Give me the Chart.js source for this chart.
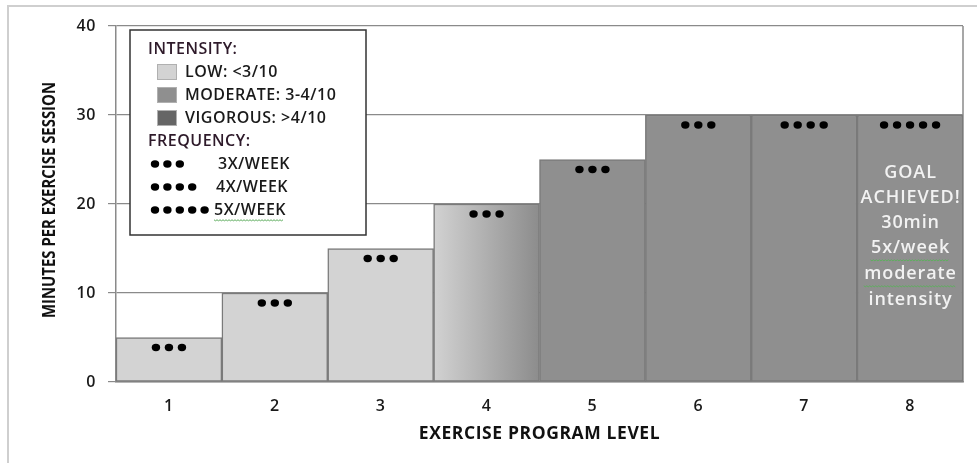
<!DOCTYPE html>
<html>
<head>
<meta charset="utf-8">
<script src="https://cdn.jsdelivr.net/npm/chart.js@4/dist/chart.umd.min.js"></script>
<style>
  html, body { margin: 0; padding: 0; background: #ffffff; }
  #wrap { width: 977px; height: 463px; position: relative; }
</style>
</head>
<body>
<div id="wrap"><canvas id="chart"></canvas></div>
<script>
// Exercise progression: minutes per session by program level
const levels = ['1', '2', '3', '4', '5', '6', '7', '8'];
const minutesPerSession = [5, 10, 15, 20, 25, 30, 30, 30];
const sessionsPerWeek = [3, 3, 3, 3, 3, 3, 4, 5];
const intensityLevel = ['low', 'low', 'low', 'low-to-moderate', 'moderate', 'moderate', 'moderate', 'moderate'];
const yTickValues = [0, 10, 20, 30, 40];

const intensityLabels = ['LOW: <3/10', 'MODERATE: 3-4/10', 'VIGOROUS: >4/10'];
const intensityColors = ['#d3d3d3', '#8f8f8f', '#666666'];
const frequencyCounts = [3, 4, 5];
const frequencyLabels = ['3X/WEEK', '4X/WEEK', '5X/WEEK'];
const goalLines = ['GOAL', 'ACHIEVED!', '30min', '5x/week', 'moderate', 'intensity'];
const yAxisTitle = 'MINUTES PER EXERCISE SESSION';
const xAxisTitle = 'EXERCISE PROGRAM LEVEL';

const FONT = '"Open Sans", "Noto Sans", sans-serif';
const AXIS_GREY = '#8a8a8a';
const DOT_GAP = 13;

function barFill(ctx) {
  const kind = intensityLevel[ctx.dataIndex];
  if (kind === 'low') return intensityColors[0];
  if (kind === 'moderate') return intensityColors[1];
  if (kind === 'vigorous') return intensityColors[2];
  // transition bar: fades from low to moderate across its width
  const chart = ctx.chart;
  const xs = chart.scales.x;
  if (!xs || !chart.chartArea) return intensityColors[0];
  const cx = xs.getPixelForValue(ctx.dataIndex);
  const half = (xs.width / levels.length) / 2;
  const g = chart.ctx.createLinearGradient(cx - half, 0, cx + half, 0);
  g.addColorStop(0, '#d2d2d2');
  g.addColorStop(1, '#8c8c8c');
  return g;
}

function drawDots(ctx, startX, cy, n, gap) {
  ctx.fillStyle = '#000';
  for (let i = 0; i < n; i++) {
    ctx.beginPath();
    ctx.ellipse(startX + i * gap, cy, 4.2, 3.7, 0, 0, Math.PI * 2);
    ctx.fill();
  }
}

function squiggle(ctx, x0, x1, y) {
  ctx.save();
  ctx.strokeStyle = '#5fae5f';
  ctx.lineWidth = 1;
  ctx.beginPath();
  for (let x = x0, k = 0; x <= x1; x += 1.5, k++) {
    const yy = y + (k % 2 ? 0.8 : -0.2);
    if (k === 0) ctx.moveTo(x, yy); else ctx.lineTo(x, yy);
  }
  ctx.stroke();
  ctx.restore();
}

const decorations = {
  id: 'decorations',
  beforeDraw(chart) {
    const ctx = chart.ctx;
    ctx.save();
    ctx.fillStyle = '#ffffff';
    ctx.fillRect(0, 0, chart.width, chart.height);
    // outer frame
    ctx.strokeStyle = '#cfcfcf';
    ctx.lineWidth = 2;
    ctx.beginPath();
    ctx.moveTo(8, chart.height);
    ctx.lineTo(8, 6);
    ctx.lineTo(chart.width, 6);
    ctx.stroke();
    ctx.restore();
    // slightly open lettering for the axis text
    ctx.letterSpacing = '0.6px';
  },
  beforeDatasetsDraw(chart) {
    const {ctx, chartArea} = chart;
    ctx.save();
    ctx.strokeStyle = AXIS_GREY;
    ctx.lineWidth = 1.5;
    ctx.beginPath();
    ctx.moveTo(chartArea.right, chartArea.top);
    ctx.lineTo(chartArea.right, chartArea.bottom);
    ctx.stroke();
    ctx.restore();
  },
  afterDatasetsDraw(chart) {
    const ctx = chart.ctx;
    const meta = chart.getDatasetMeta(0);
    ctx.save();
    // frequency dots on each bar
    meta.data.forEach((bar, i) => {
      const n = sessionsPerWeek[i];
      drawDots(ctx, bar.x - (n - 1) * DOT_GAP / 2, bar.y + 10, n, DOT_GAP);
    });

    // goal note inside the last bar
    const last = meta.data[meta.data.length - 1];
    ctx.fillStyle = '#f2f2f2';
    ctx.font = '600 18px ' + FONT;
    ctx.letterSpacing = '0.9px';
    ctx.textAlign = 'center';
    ctx.textBaseline = 'middle';
    const lineYs = [173, 198, 223, 248, 274, 300];
    goalLines.forEach((t, i) => {
      ctx.fillText(t, last.x + 0.5, lineYs[i]);
      if (t === '5x/week' || t === 'moderate') {
        const w = ctx.measureText(t).width;
        squiggle(ctx, last.x - w / 2, last.x + w / 2, lineYs[i] + 12);
      }
    });

    // key box
    const bx = 130, by = 30, bw = 236, bh = 205;
    ctx.fillStyle = '#ffffff';
    ctx.fillRect(bx, by, bw, bh);
    ctx.strokeStyle = '#333333';
    ctx.lineWidth = 1.5;
    ctx.strokeRect(bx, by, bw, bh);

    ctx.textAlign = 'left';
    ctx.textBaseline = 'middle';
    ctx.font = '600 16px ' + FONT;
    ctx.letterSpacing = '0.5px';
    ctx.fillStyle = '#2e1a2a';
    ctx.fillText('INTENSITY:', 148, 49);
    intensityLabels.forEach((t, i) => {
      const cy = 72 + i * 23;
      ctx.fillStyle = intensityColors[i];
      ctx.fillRect(157, cy - 8, 20, 16);
      ctx.strokeStyle = '#b0b0b0';
      ctx.lineWidth = 1;
      ctx.strokeRect(157.5, cy - 7.5, 19, 15);
      ctx.fillStyle = '#1a1a1a';
      ctx.fillText(t, 185, cy);
    });
    ctx.fillStyle = '#2e1a2a';
    ctx.fillText('FREQUENCY:', 148, 141);
    const textStarts = [218, 216, 214];
    frequencyLabels.forEach((t, i) => {
      const cy = 164 + i * 23;
      drawDots(ctx, 155, cy, frequencyCounts[i], 12.4);
      ctx.fillStyle = '#1a1a1a';
      ctx.fillText(t, textStarts[i], cy);
      if (i === 2) {
        const w = ctx.measureText(t).width;
        squiggle(ctx, textStarts[i], textStarts[i] + w - 2, cy + 10);
      }
    });

    // vertical axis title in a condensed face
    ctx.font = 'bold 17px ' + FONT;
    ctx.letterSpacing = '0px';
    ctx.fillStyle = '#111';
    ctx.textAlign = 'center';
    ctx.textBaseline = 'middle';
    const tw = ctx.measureText(yAxisTitle).width;
    ctx.translate(50, 200);
    ctx.rotate(-Math.PI / 2);
    ctx.scale(236 / tw, 1);
    ctx.fillText(yAxisTitle, 0, 0);
    ctx.restore();
  }
};

new Chart(document.getElementById('chart'), {
  type: 'bar',
  data: {
    labels: levels,
    datasets: [{
      data: minutesPerSession,
      backgroundColor: barFill,
      borderColor: '#7a7a7a',
      borderWidth: 1.5,
      borderSkipped: false,
      barPercentage: 1,
      categoryPercentage: 1
    }]
  },
  options: {
    responsive: true,
    maintainAspectRatio: false,
    animation: false,
    layout: { padding: { left: 0, top: 26, right: 14, bottom: 0 } },
    plugins: {
      legend: { display: false },
      tooltip: { enabled: false }
    },
    scales: {
      x: {
        grid: { display: false, drawTicks: false },
        border: { display: true, color: AXIS_GREY, width: 1.5 },
        ticks: { color: '#1a1a1a', padding: 15, font: { family: FONT, size: 16, weight: '600' } },
        title: {
          display: true,
          text: xAxisTitle,
          color: '#111',
          font: { family: FONT, size: 17.5, weight: 'bold' },
          padding: { top: 0, bottom: 18 }
        },
        afterFit(scale) { scale.height = 81; }
      },
      y: {
        min: 0,
        max: 40,
        afterBuildTicks(scale) { scale.ticks = yTickValues.map(v => ({ value: v })); },
        grid: { color: AXIS_GREY, lineWidth: 1.2, tickLength: 8, drawTicks: true },
        border: { display: true, color: AXIS_GREY, width: 1.5 },
        ticks: { color: '#1a1a1a', padding: 12, font: { family: FONT, size: 16, weight: '600' } },
        title: { display: false },
        afterFit(scale) { scale.width = 116; }
      }
    }
  },
  plugins: [decorations]
});
</script>
</body>
</html>
